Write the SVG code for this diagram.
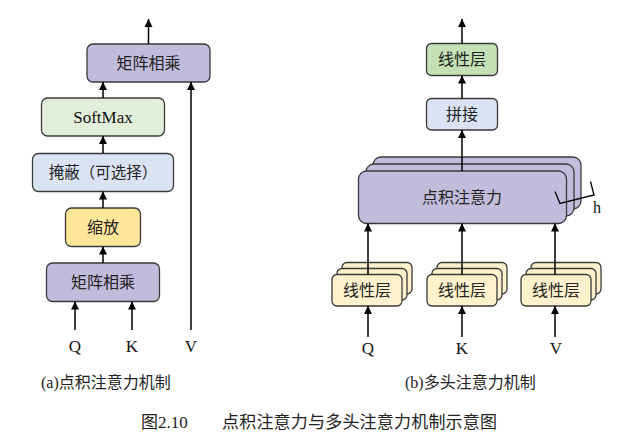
<svg xmlns="http://www.w3.org/2000/svg" width="617" height="440" viewBox="0 0 617 440">
<style>
.box{stroke:#3a3a3a;stroke-width:1.3}
.purple{fill:#c2bcdc}
.green1{fill:#e2efda}
.green2{fill:#c5e0b4}
.blue{fill:#dae3f3}
.yellow{fill:#ffe699}
.ly{fill:#fff2cc}
.cn{font-family:"Noto Sans CJK SC","Liberation Sans",sans-serif;font-size:16px;fill:#222;text-anchor:middle}
.lat{font-family:"Liberation Serif",serif;font-size:17px;fill:#111;text-anchor:middle}
.cap{font-family:"Liberation Serif","Noto Sans CJK SC",serif;font-size:16px;fill:#222}
.ln{stroke:#000;stroke-width:1.5;fill:none}
</style>
<defs>
<marker id="ah" viewBox="0 0 8 10" refX="8" refY="5" markerWidth="8" markerHeight="10" markerUnits="userSpaceOnUse" orient="auto">
<path d="M0,1 L8,5 L0,9 Z" fill="#000"/>
</marker>
</defs>
<rect width="617" height="440" fill="#fff"/>

<!-- Left diagram nodes -->
<g id="a_matmul_top"><rect class="box purple" x="87" y="44" width="123" height="38" rx="6"/><text class="cn" x="148.5" y="69">矩阵相乘</text></g>
<g id="a_softmax"><rect class="box green1" x="41.5" y="98" width="123" height="38" rx="6"/><text class="lat" x="103" y="123">SoftMax</text></g>
<g id="a_mask"><rect class="box blue" x="32.5" y="153.5" width="141" height="38" rx="6"/><text class="cn" x="103" y="178" style="font-size:15.5px">掩蔽（可选择）</text></g>
<g id="a_scale"><rect class="box yellow" x="65.5" y="208" width="75" height="38.5" rx="6"/><text class="cn" x="103" y="233">缩放</text></g>
<g id="a_matmul_bot"><rect class="box purple" x="46.5" y="263" width="113" height="38.5" rx="6"/><text class="cn" x="103" y="288">矩阵相乘</text></g>
<g id="a_labels">
<text class="lat" x="75" y="352">Q</text>
<text class="lat" x="132" y="352">K</text>
<text class="lat" x="191" y="352">V</text>
</g>

<!-- Right diagram nodes -->
<g id="b_linear_top"><rect class="box green2" x="426.5" y="43.5" width="71" height="32" rx="5"/><text class="cn" x="462" y="65">线性层</text></g>
<g id="b_concat"><rect class="box blue" x="426.5" y="98.5" width="71" height="31.5" rx="5"/><text class="cn" x="462" y="120">拼接</text></g>
<g id="b_attn">
<rect class="box purple" x="373" y="157" width="208" height="52" rx="8"/>
<rect class="box purple" x="366" y="164" width="208" height="52" rx="8"/>
<rect class="box purple" x="358.5" y="171" width="208" height="52.5" rx="8"/>
<text class="cn" x="462" y="203">点积注意力</text>
<polyline class="ln" style="stroke-width:1.3" points="555,191.5 560,203.5 594,195 590.5,181.5"/>
<text class="lat" x="597" y="213" style="font-size:16px">h</text>
</g>
<g id="b_linear_q">
<rect class="box ly" x="342" y="262.5" width="70" height="31.5" rx="5"/>
<rect class="box ly" x="337" y="268.5" width="70" height="31.5" rx="5"/>
<rect class="box ly" x="332" y="274.5" width="70" height="31.5" rx="5"/>
<text class="cn" x="367" y="296">线性层</text>
</g>
<g id="b_linear_k">
<rect class="box ly" x="437" y="262.5" width="70" height="31.5" rx="5"/>
<rect class="box ly" x="432" y="268.5" width="70" height="31.5" rx="5"/>
<rect class="box ly" x="427" y="274.5" width="70" height="31.5" rx="5"/>
<text class="cn" x="462" y="296">线性层</text>
</g>
<g id="b_linear_v">
<rect class="box ly" x="531" y="262.5" width="70" height="31.5" rx="5"/>
<rect class="box ly" x="526" y="268.5" width="70" height="31.5" rx="5"/>
<rect class="box ly" x="521" y="274.5" width="70" height="31.5" rx="5"/>
<text class="cn" x="556" y="296">线性层</text>
</g>
<g id="b_labels">
<text class="lat" x="368" y="354">Q</text>
<text class="lat" x="462" y="354">K</text>
<text class="lat" x="556" y="354">V</text>
</g>

<!-- Connectors -->
<g id="connectors" class="ln">
<line x1="148.5" y1="44" x2="148.5" y2="19" marker-end="url(#ah)"/>
<line x1="103" y1="98" x2="103" y2="82" marker-end="url(#ah)"/>
<line x1="103" y1="153.5" x2="103" y2="136" marker-end="url(#ah)"/>
<line x1="103" y1="208" x2="103" y2="191.5" marker-end="url(#ah)"/>
<line x1="103" y1="263" x2="103" y2="246.5" marker-end="url(#ah)"/>
<line x1="75" y1="330" x2="75" y2="301.5" marker-end="url(#ah)"/>
<line x1="132" y1="330" x2="132" y2="301.5" marker-end="url(#ah)"/>
<line x1="191" y1="330" x2="191" y2="82" marker-end="url(#ah)"/>

<line x1="462" y1="43.5" x2="462" y2="19" marker-end="url(#ah)"/>
<line x1="462" y1="98.5" x2="462" y2="75.5" marker-end="url(#ah)"/>
<line x1="462" y1="171" x2="462" y2="130" marker-end="url(#ah)"/>
<line x1="368" y1="274.5" x2="368" y2="223.5" marker-end="url(#ah)"/>
<line x1="462" y1="274.5" x2="462" y2="223.5" marker-end="url(#ah)"/>
<line x1="555" y1="274.5" x2="555" y2="223.5" marker-end="url(#ah)"/>
<line x1="368" y1="337" x2="368" y2="306" marker-end="url(#ah)"/>
<line x1="462" y1="337" x2="462" y2="306" marker-end="url(#ah)"/>
<line x1="555" y1="337" x2="555" y2="306" marker-end="url(#ah)"/>
</g>

<!-- Captions -->
<text class="cap" x="41" y="388">(a)<tspan font-family="Noto Sans CJK SC, sans-serif">点积注意力机制</tspan></text>
<text class="cap" x="405" y="388">(b)<tspan font-family="Noto Sans CJK SC, sans-serif">多头注意力机制</tspan></text>
<text class="cap" x="141" y="428" style="font-size:17px"><tspan font-family="Noto Sans CJK SC, sans-serif">图</tspan>2.10</text>
<text class="cap" x="222" y="428" style="font-size:17px;font-family:'Noto Sans CJK SC',sans-serif" textLength="275" lengthAdjust="spacing">点积注意力与多头注意力机制示意图</text>
</svg>
